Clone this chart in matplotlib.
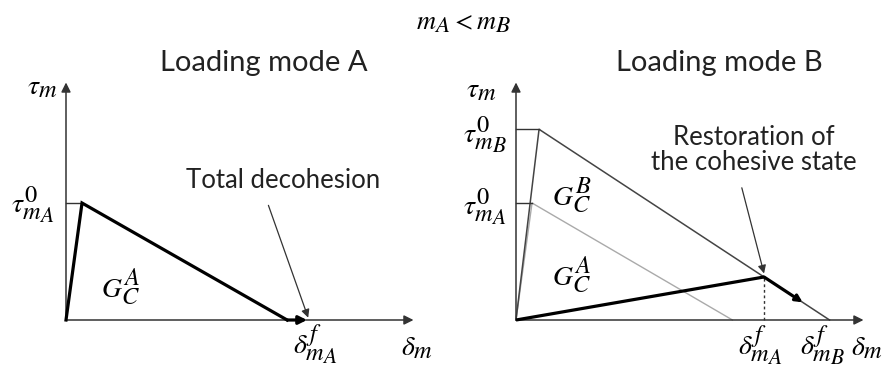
import matplotlib.pyplot as plt
import matplotlib._mathtext as mathtext
import numpy as np

# %% Traction-separation law parameters (normalised so tau0_A = 1)
# Loading mode A
delta0_A = 0.137   # displacement at damage onset
tau0_A = 1.0       # cohesive strength
deltaf_A = 1.89    # displacement at total decohesion

# Loading mode B (m_A < m_B)
delta0_B = 0.197
tau0_B = 1.63
deltaf_B = 2.68
deltaf_A_in_B = 1.85   # mode A law drawn in the mode B frame
delta_restore = 2.12   # point where the cohesive state is restored

# Axis extents
x_axis_end = 2.97
y_axis_end = 2.03

# %% Figure
plt.rcParams['mathtext.fontset'] = 'stix'
mathtext.SHRINK_FACTOR = 0.88  # larger sub/superscripts
fig = plt.figure(figsize=(8.94, 3.70), dpi=100)

px = 117.0  # pixels per unit
ax_a = fig.add_axes([0, 0, 0.5, 1])
ax_b = fig.add_axes([0.5, 0, 0.5, 1])
ax_a.set_xlim(-66 / px, (447 - 66) / px)
ax_b.set_xlim(-69 / px, (447 - 69) / px)
for ax in (ax_a, ax_b):
    ax.set_ylim(-50 / px, 320 / px)
    ax.axis('off')

axis_col = '#333333'
text_col = '#222222'
text_font = 'Lato'
math_size = 20
title_size = 21
note_size = 18.5


def mlabel(ax, x, y, s):
    ax.text(x, y, s, fontsize=math_size, ha='center', va='center')


def draw_axes(ax, ylab_x, ylab_y, xlab_x):
    ax.annotate('', xy=(x_axis_end, 0), xytext=(0, 0),
                arrowprops=dict(arrowstyle='-|>', color=axis_col, lw=1.1,
                                mutation_scale=14, shrinkA=0, shrinkB=0))
    ax.annotate('', xy=(0, y_axis_end), xytext=(0, 0),
                arrowprops=dict(arrowstyle='-|>', color=axis_col, lw=1.1,
                                mutation_scale=14, shrinkA=0, shrinkB=0))
    mlabel(ax, ylab_x, ylab_y, r'$\tau_m$')
    mlabel(ax, xlab_x, -0.23, r'$\delta_m$')


# %% Loading mode A
draw_axes(ax_a, -0.2, 2.0, x_axis_end + 0.03)
ax_a.plot([0, delta0_A, deltaf_A], [0, tau0_A, 0], color='black', lw=2.3,
          solid_joinstyle='miter', zorder=3)
ax_a.plot([0, delta0_A], [tau0_A, tau0_A], color=axis_col, lw=1.0)
ax_a.annotate('', xy=(deltaf_A + 0.17, 0), xytext=(deltaf_A, 0),
              arrowprops=dict(arrowstyle='-|>', color='black', lw=2.3,
                              mutation_scale=12, shrinkA=0, shrinkB=0))
ax_a.annotate('', xy=(deltaf_A + 0.18, 0.02), xytext=(1.73, 0.98),
              arrowprops=dict(arrowstyle='-|>', color=axis_col, lw=0.9,
                              mutation_scale=12, shrinkA=0, shrinkB=0))
ax_a.text(1.86, 1.19, 'Total decohesion', fontsize=note_size,
          family=text_font, ha='center', va='center', color=text_col)
ax_a.text(1.69, 2.2, 'Loading mode A', fontsize=title_size, family=text_font,
          ha='center', va='center', color=text_col)
mlabel(ax_a, 0.47, 0.28, r'$G_C^A$')
mlabel(ax_a, -0.29, tau0_A - 0.01, r'$\tau_{m_A}^0$')
mlabel(ax_a, deltaf_A + 0.24, -0.21, r'$\delta_{m_A}^f$')

# %% Loading mode B
draw_axes(ax_b, -0.30, 1.97, x_axis_end + 0.03)
ax_b.plot([0, delta0_A, deltaf_A_in_B], [0, tau0_A, 0], color='#aaaaaa',
          lw=1.0, zorder=2)
ax_b.plot([0, delta0_B, deltaf_B], [0, tau0_B, 0], color='#444444',
          lw=1.1, zorder=2)
ax_b.plot([0, delta0_A], [tau0_A, tau0_A], color=axis_col, lw=1.0)
ax_b.plot([0, delta0_B], [tau0_B, tau0_B], color=axis_col, lw=1.0)

# restoration point on the mode B softening branch
tau_restore = tau0_B * (deltaf_B - delta_restore) / (deltaf_B - delta0_B)
ax_b.plot([0, delta_restore], [0, tau_restore], color='black', lw=2.3,
          solid_capstyle='butt', zorder=3)
d_end = delta_restore + 0.33
t_end = tau0_B * (deltaf_B - d_end) / (deltaf_B - delta0_B)
ax_b.annotate('', xy=(d_end, t_end), xytext=(delta_restore, tau_restore),
              arrowprops=dict(arrowstyle='-|>', color='black', lw=2.3,
                              mutation_scale=10, shrinkA=0, shrinkB=0),
              zorder=3)
ax_b.plot([delta_restore, delta_restore], [0, tau_restore], color='#333333',
          lw=1.0, ls=(0, (2, 2)))
ax_b.annotate('', xy=(delta_restore, tau_restore + 0.03),
              xytext=(1.93, 1.13),
              arrowprops=dict(arrowstyle='-|>', color=axis_col, lw=0.9,
                              mutation_scale=12, shrinkA=0, shrinkB=0))
ax_b.text(2.03, 1.45, 'Restoration of\nthe cohesive state', fontsize=note_size,
          family=text_font, ha='center', va='center', color=text_col,
          linespacing=1.0)
ax_b.text(1.74, 2.2, 'Loading mode B', fontsize=title_size, family=text_font,
          ha='center', va='center', color=text_col)
mlabel(ax_b, 0.48, 1.07, r'$G_C^B$')
mlabel(ax_b, 0.48, 0.385, r'$G_C^A$')
mlabel(ax_b, -0.27, tau0_B - 0.05, r'$\tau_{m_B}^0$')
mlabel(ax_b, -0.27, tau0_A - 0.034, r'$\tau_{m_A}^0$')
mlabel(ax_b, delta_restore - 0.03, -0.22, r'$\delta_{m_A}^f$')
mlabel(ax_b, deltaf_B - 0.06, -0.22, r'$\delta_{m_B}^f$')

fig.text(0.518, 0.94, r'$m_A < m_B$', fontsize=19, ha='center', va='center')

fig.savefig('out.png', dpi=100)
